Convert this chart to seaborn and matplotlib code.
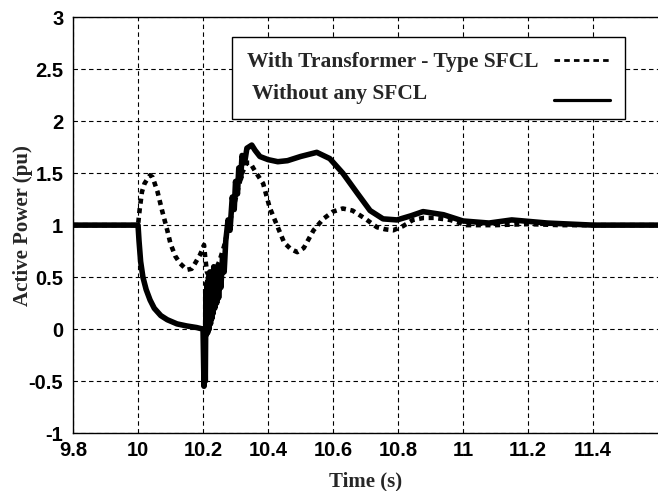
import numpy as np
import pandas as pd
import matplotlib
matplotlib.use("Agg")
import matplotlib.pyplot as plt
from matplotlib.lines import Line2D
from matplotlib.legend_handler import HandlerLine2D
import seaborn as sns

# ---- data ----
t_sfcl = [9.8, 10.0, 10.005, 10.012, 10.02, 10.03, 10.037, 10.045, 10.06, 10.074,
          10.09, 10.1, 10.115, 10.13, 10.15, 10.165, 10.175, 10.19, 10.2, 10.203,
          10.207, 10.212, 10.22, 10.235, 10.25, 10.265, 10.28, 10.3, 10.32, 10.335,
          10.345, 10.36, 10.385, 10.405, 10.43, 10.45, 10.47, 10.49, 10.51, 10.54,
          10.57, 10.6, 10.63, 10.66, 10.7, 10.735, 10.76, 10.785, 10.815, 10.846,
          10.88, 10.91, 10.96, 11.01, 11.1, 11.2, 11.3, 11.6]
p_sfcl = [1, 1, 1.15, 1.32, 1.4, 1.45, 1.48, 1.46, 1.32, 1.14,
          0.95, 0.82, 0.7, 0.63, 0.57, 0.58, 0.63, 0.71, 0.78, 0.81,
          0.68, 0.55, 0.5, 0.55, 0.65, 0.8, 1.0, 1.25, 1.5, 1.6,
          1.6, 1.52, 1.4, 1.17, 0.98, 0.83, 0.77, 0.74, 0.78, 0.95,
          1.06, 1.13, 1.16, 1.14, 1.06, 0.98, 0.96, 0.95, 0.99, 1.05,
          1.07, 1.07, 1.05, 1.0, 1.0, 1.01, 1.0, 1.0]

t_none = [9.8, 10.0, 10.003, 10.008, 10.015, 10.025, 10.037, 10.05, 10.07, 10.09,
          10.12, 10.15, 10.18, 10.2, 10.203, 10.205, 10.207, 10.209, 10.211, 10.213,
          10.215, 10.217, 10.219, 10.221, 10.223, 10.225, 10.227, 10.229, 10.231, 10.233,
          10.236, 10.239, 10.242, 10.245, 10.248, 10.251, 10.255, 10.26, 10.265, 10.27,
          10.277, 10.283, 10.29, 10.296, 10.3, 10.306, 10.31, 10.316, 10.32, 10.328,
          10.335, 10.35, 10.36, 10.375, 10.4, 10.43,
          10.46, 10.5, 10.55, 10.59, 10.63, 10.674, 10.714, 10.754, 10.797, 10.84,
          10.877, 10.94, 11.0, 11.08, 11.15, 11.26, 11.4, 11.6]
p_none = [1, 1, 0.85, 0.65, 0.5, 0.38, 0.28, 0.2, 0.13, 0.09,
          0.05, 0.03, 0.015, 0.0, -0.55, -0.02, -0.5, 0.35, -0.05, 0.45,
          -0.03, 0.5, 0.0, 0.55, 0.05, 0.45, 0.1, 0.55, 0.15, 0.6,
          0.2, 0.55, 0.25, 0.6, 0.3, 0.55, 0.4, 0.7, 0.55, 0.85,
          1.05, 0.95, 1.27, 1.15, 1.42, 1.3, 1.55, 1.45, 1.67, 1.6,
          1.74, 1.77, 1.72, 1.66, 1.63, 1.61,
          1.62, 1.66, 1.7, 1.64, 1.5, 1.31, 1.14, 1.06, 1.05, 1.09,
          1.13, 1.1, 1.04, 1.02, 1.05, 1.02, 1.0, 1.0]

x_ticks = [9.8, 10.0, 10.2, 10.4, 10.6, 10.8, 11.0, 11.2, 11.4]
x_tick_labels = ["9.8", "10", "10.2", "10.4", "10.6", "10.8", "11", "11.2", "11.4"]
y_ticks = [-1, -0.5, 0, 0.5, 1, 1.5, 2, 2.5, 3]
y_tick_labels = ["-1", "-0.5", "0", "0.5", "1", "1.5", "2", "2.5", "3"]

label_sfcl = "With Transformer - Type SFCL"
label_none = " Without any SFCL"


class ShiftedLineHandler(HandlerLine2D):
    """Legend line drawn slightly below the text centre."""
    def __init__(self, dy=0.0, **kw):
        super().__init__(**kw)
        self.dy = dy

    def create_artists(self, legend, orig_handle, xdescent, ydescent, width,
                       height, fontsize, trans):
        arts = super().create_artists(legend, orig_handle, xdescent, ydescent,
                                      width, height, fontsize, trans)
        for a in arts:
            a.set_ydata(np.asarray(a.get_ydata(), dtype=float) - self.dy)
        return arts


# ---- plotting ----
sns.set_style("white")
plt.rcParams["font.family"] = ["Liberation Sans", "DejaVu Sans"]

fig = plt.figure(figsize=(6.58, 4.91), dpi=100)
ax = fig.add_axes([0.111, 0.118, 0.889, 0.847])

df_s = pd.DataFrame({"t": t_sfcl, "p": p_sfcl})
df_n = pd.DataFrame({"t": t_none, "p": p_none})

sns.lineplot(data=df_n, x="t", y="p", ax=ax, color="black", lw=4.0,
             sort=False, estimator=None, zorder=3)
sns.lineplot(data=df_s, x="t", y="p", ax=ax, color="black", lw=3.3,
             sort=False, estimator=None, zorder=4)
ax.lines[-1].set_dashes((1.1, 1.0))

ax.set_xlim(9.8, 11.6)
ax.set_ylim(-1, 3)
ax.set_xticks(x_ticks)
ax.set_xticklabels(x_tick_labels)
ax.set_yticks(y_ticks)
ax.set_yticklabels(y_tick_labels)
for lab in ax.get_xticklabels() + ax.get_yticklabels():
    lab.set_fontsize(14.5)
    lab.set_fontweight("bold")
    lab.set_color("black")

ax.tick_params(axis="both", direction="in", length=4, width=0.8, colors="black",
               pad=6)
ax.tick_params(axis="y", pad=7)
ax.grid(True, color="black", linestyle=(0, (4, 3)), linewidth=0.8)

for side in ["left", "bottom", "top"]:
    ax.spines[side].set_visible(True)
    ax.spines[side].set_color("black")
    ax.spines[side].set_linewidth(1.0)
ax.spines["right"].set_visible(False)

serif = {"family": ["Liberation Serif", "DejaVu Serif"], "weight": "bold", "size": 15}
ax.set_xlabel("Time (s)", fontdict=serif, labelpad=8)
ax.set_ylabel("Active Power (pu)", fontdict=serif, labelpad=-3)

h_dash = Line2D([0], [0], color="black", lw=2.0, linestyle=(0, (2, 1.5)))
h_solid = Line2D([0], [0], color="black", lw=2.3)
leg = ax.legend([h_dash, h_solid], [label_sfcl, label_none], loc="upper left",
                bbox_to_anchor=(0.272, 0.952), markerfirst=False,
                prop={"family": ["Liberation Serif"], "weight": "bold", "size": 15.5},
                frameon=True, fancybox=False, framealpha=1, edgecolor="black",
                borderpad=0.7, labelspacing=0.56, handlelength=2.6,
                handletextpad=0.7, borderaxespad=0,
                handler_map={h_solid: ShiftedLineHandler(dy=6.0)})
leg.get_frame().set_linewidth(1.0)

# keep the label text left-aligned while handles stay on the right
fig.canvas.draw()
r = fig.canvas.get_renderer()
txts = leg.get_texts()
widths = [t.get_window_extent(r).width for t in txts]
col = leg._legend_handle_box.get_children()[0]
rows = col.get_children()
rows[1].sep += (widths[0] - widths[1]) * 72.0 / fig.dpi

fig.savefig("out.png", dpi=100)
